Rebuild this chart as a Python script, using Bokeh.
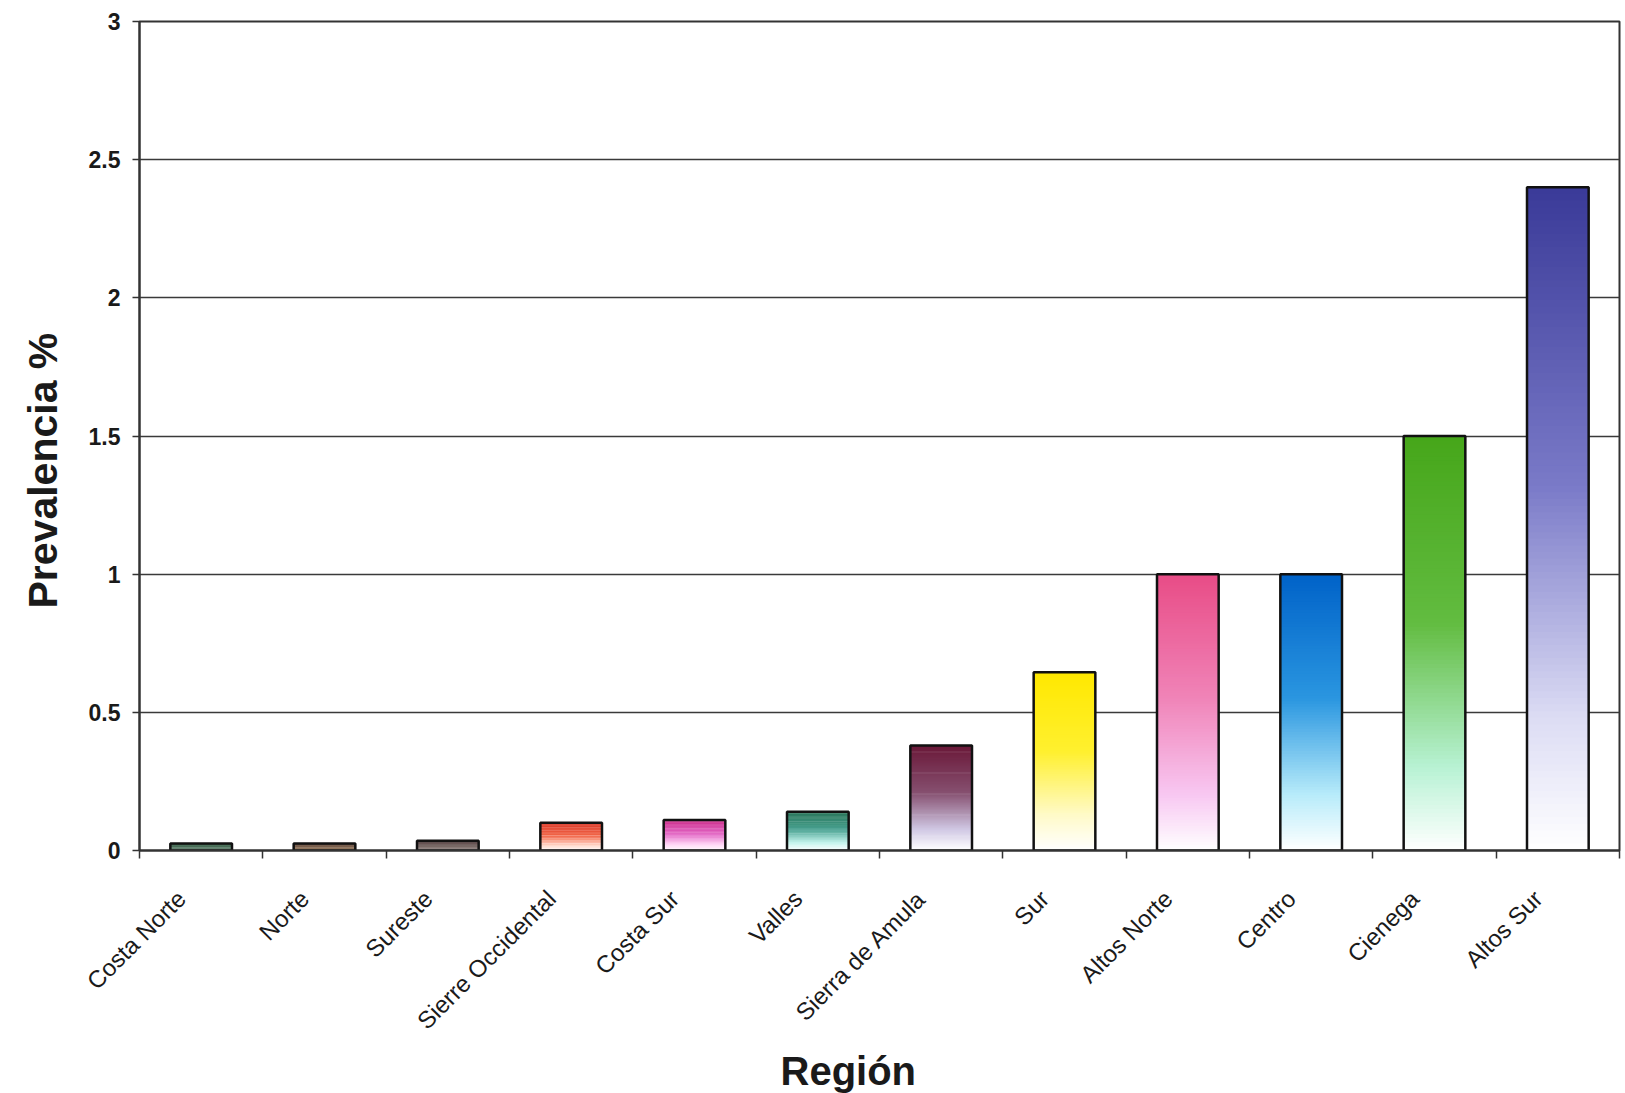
import numpy as np
from bokeh.plotting import figure
from bokeh.models import FixedTicker, Range1d, Title
from bokeh.embed import file_html
from bokeh.resources import INLINE

# ---- data ----
regions = ["Costa Norte", "Norte", "Sureste", "Sierre Occidental", "Costa Sur", "Valles",
           "Sierra de Amula", "Sur", "Altos Norte", "Centro", "Cienega", "Altos Sur"]
prevalence = [0.025, 0.025, 0.035, 0.10, 0.11, 0.14, 0.38, 0.645, 1.0, 1.0, 1.5, 2.4]
top_colors = ["#1f4a30", "#4a2e22", "#42302e", "#d82a18", "#c81c80", "#1a6a4c",
              "#6a1838", "#ffe800", "#e84c86", "#0062c8", "#46a61a", "#3a3a98"]
mid_colors = ["#2f5a40", "#6a4a34", "#5a4644", "#f05a3a", "#e05cc0", "#3a9a88",
              "#865070", "#fff030", "#f084b8", "#2a96e0", "#62bc40", "#7a7ac8"]
light_colors = ["#5a7a66", "#8a6a4a", "#7a6a66", "#ffd0c0", "#ffd0f4", "#c0f4ec",
                "#d0c8e4", "#fffac8", "#f8c8f2", "#b8ecfa", "#b8f2d4", "#dcdcf4"]
y_ticks = [0, 0.5, 1, 1.5, 2, 2.5, 3]
y_tick_labels = ["0", "0.5", "1", "1.5", "2", "2.5", "3"]
x_title = "Región"
y_title = "Prevalencia %"

FONT = "Liberation Sans"
N_SLICES = 100
BAR_W = 0.5
LABEL_SHIFT = 0.16  # tick-label anchor shift (category units), style only


def hex2rgb(h):
    h = h.lstrip("#")
    return np.array([int(h[i:i + 2], 16) for i in (0, 2, 4)], dtype=float)


def grad_color(t, top, mid, light):
    stops = [(0.0, hex2rgb("#ffffff")), (0.2, hex2rgb(light)), (0.55, hex2rgb(mid)), (1.0, hex2rgb(top))]
    for (t0, c0), (t1, c1) in zip(stops[:-1], stops[1:]):
        if t <= t1:
            f = (t - t0) / (t1 - t0)
            c = c0 + (c1 - c0) * f
            return "#%02x%02x%02x" % tuple(int(round(v)) for v in c)
    return top


n = len(regions)
centers = [i + 0.5 for i in range(n)]
y_lo, y_hi = y_ticks[0], y_ticks[-1]

p = figure(width=1625, height=1093, output_backend="svg", toolbar_location=None,
           x_range=Range1d(0, n), y_range=Range1d(y_lo, y_hi),
           min_border_left=139, min_border_right=6, min_border_top=21, min_border_bottom=243)
p.background_fill_color = "white"
p.border_fill_color = "white"

# gradient bars built from slices of each bar's own value
L, R, B, T, C = [], [], [], [], []
for i, v in enumerate(prevalence):
    for j in range(N_SLICES):
        f0 = j / N_SLICES
        f1 = (j + 1) / N_SLICES
        L.append(centers[i] - BAR_W / 2)
        R.append(centers[i] + BAR_W / 2)
        B.append(v * f0)
        T.append(min(v, v * (f1 + 0.6 / N_SLICES)))
        C.append(grad_color((f0 + f1) / 2, top_colors[i], mid_colors[i], light_colors[i]))
p.quad(left=L, right=R, bottom=B, top=T, fill_color=C, line_color=None)
p.vbar(x=centers, width=BAR_W, top=prevalence, bottom=0, fill_color=None,
       line_color="#111111", line_width=2.5)

# x axis: labels near centers, tick marks at category boundaries
label_pos = [c - LABEL_SHIFT for c in centers]
p.xaxis.ticker = FixedTicker(ticks=label_pos, minor_ticks=list(range(n + 1)))
p.xaxis.major_label_overrides = {c: r for c, r in zip(label_pos, regions)}
p.xaxis.major_tick_out = 0
p.xaxis.major_tick_in = 0
p.xaxis.minor_tick_out = 8
p.xaxis.minor_tick_in = 0
p.xaxis.minor_tick_line_color = "#333333"
p.xaxis.minor_tick_line_width = 1.5
p.xaxis.major_label_orientation = np.pi / 4
p.xaxis.major_label_text_font = FONT
p.xaxis.major_label_text_font_size = "24px"
p.xaxis.major_label_text_color = "#1a1a1a"
p.xaxis.major_label_standoff = 36
p.xaxis.axis_line_color = "#333333"
p.xaxis.axis_line_width = 2

# y axis
p.yaxis.ticker = FixedTicker(ticks=y_ticks, minor_ticks=[])
p.yaxis.major_label_overrides = {t: s for t, s in zip(y_ticks, y_tick_labels)}
p.yaxis.major_tick_out = 7
p.yaxis.major_tick_in = 0
p.yaxis.major_tick_line_color = "#333333"
p.yaxis.major_tick_line_width = 1.5
p.yaxis.minor_tick_out = 0
p.yaxis.minor_tick_in = 0
p.yaxis.major_label_text_font = FONT
p.yaxis.major_label_text_font_style = "bold"
p.yaxis.major_label_text_font_size = "23px"
p.yaxis.major_label_text_color = "#1a1a1a"
p.yaxis.major_label_standoff = 12
p.yaxis.axis_line_color = "#333333"
p.yaxis.axis_line_width = 2

# axis titles as side-panel titles, offset like the original
p.add_layout(Title(text=x_title, align="left", offset=641, standoff=0,
                   text_font=FONT, text_font_style="bold", text_font_size="40px",
                   text_color="#1a1a1a"), "below")
p.add_layout(Title(text=y_title, align="left", offset=242, standoff=36,
                   vertical_align="top",
                   text_font=FONT, text_font_style="bold", text_font_size="41px",
                   text_color="#1a1a1a"), "left")

p.xgrid.grid_line_color = None
p.ygrid.ticker = FixedTicker(ticks=y_ticks)
p.ygrid.grid_line_color = "#3a3a3a"
p.ygrid.grid_line_width = 1.5

p.outline_line_color = "#333333"
p.outline_line_width = 2

open("out.html", "w").write(file_html(p, INLINE))
